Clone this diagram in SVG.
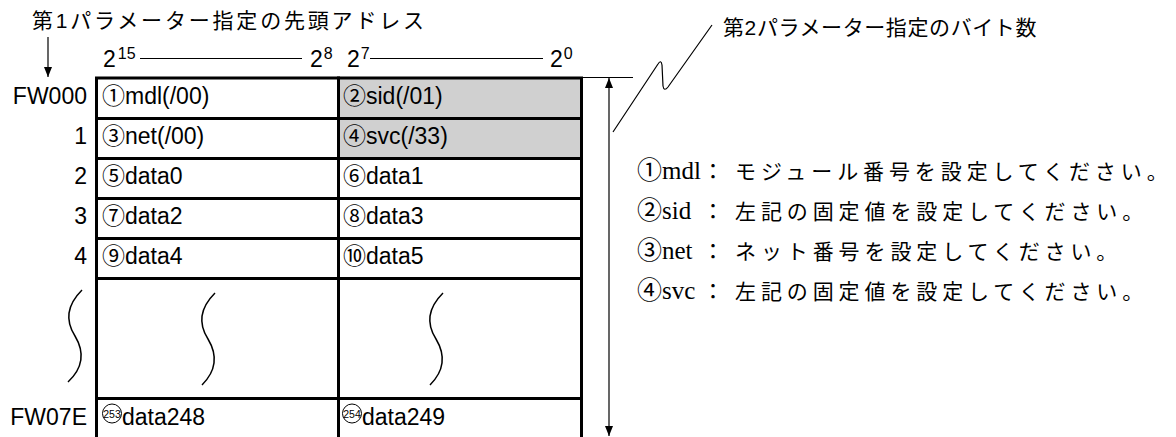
<svg xmlns="http://www.w3.org/2000/svg" width="1176" height="437" viewBox="0 0 1176 437">
<style>
.t{font-family:"Liberation Sans","Noto Sans CJK JP",sans-serif;font-size:23px;fill:#000}
.lbl{text-anchor:end}
.h{font-family:"Liberation Sans","Noto Sans CJK JP",sans-serif;font-size:21px;fill:#000}
.d{font-family:"Liberation Serif","Noto Sans CJK JP",serif;font-size:25px;fill:#000}
.dj{font-family:"Noto Sans CJK JP",serif;font-size:21px;letter-spacing:4.9px}
.dc{font-family:"Noto Sans CJK JP",serif;font-size:22px}
.cell{stroke:#000;stroke-width:3;fill:#fff}
.gray{fill:#d0d0d0}
.thin{stroke:#000;stroke-width:1.2;fill:none}
.sq{stroke:#000;stroke-width:1.5;fill:none}
.circ{stroke:#000;stroke-width:1;fill:none}
.small{font-family:"Liberation Sans",sans-serif;font-size:10.5px;text-anchor:middle}
</style>
<defs>
<marker id="ah" viewBox="0 0 10 8" refX="10" refY="4" markerWidth="10" markerHeight="8" orient="auto-start-reverse" markerUnits="userSpaceOnUse"><path d="M0,0 L10,4 L0,8 z" fill="#000"/></marker>
</defs>

<g id="header1"><text class="h" x="32" y="28" textLength="392" lengthAdjust="spacing">第1パラメーター指定の先頭アドレス</text></g>
<g id="header2"><text class="h" x="723" y="35" style="letter-spacing:0.6px">第2パラメーター指定のバイト数</text></g>

<g id="bit-scale">
<text class="t" x="103" y="67">2<tspan dx="2" dy="-8" font-size="16">15</tspan></text>
<text class="t" x="310" y="67">2<tspan dx="1" dy="-8" font-size="16">8</tspan></text>
<text class="t" x="347" y="67">2<tspan dx="1" dy="-8" font-size="16">7</tspan></text>
<text class="t" x="550" y="67">2<tspan dx="1" dy="-8" font-size="16">0</tspan></text>
<line class="thin" x1="140" y1="58.5" x2="302" y2="58.5"/>
<line class="thin" x1="370" y1="58.5" x2="543" y2="58.5"/>
</g>

<g id="row-labels">
<text class="t lbl" x="87" y="104">FW000</text>
<text class="t lbl" x="87" y="144">1</text>
<text class="t lbl" x="87" y="184">2</text>
<text class="t lbl" x="87" y="224">3</text>
<text class="t lbl" x="87" y="264">4</text>
<text class="t lbl" x="87" y="425">FW07E</text>
</g>

<g id="cell-mdl"><rect class="cell" x="96.5" y="78" width="242" height="40.5"/><text class="t" x="102" y="104">①mdl(/00)</text></g>
<g id="cell-sid"><rect class="cell gray" x="338.5" y="78" width="243" height="40.5"/><text class="t" x="343" y="104">②sid(/01)</text></g>
<g id="cell-net"><rect class="cell" x="96.5" y="118.5" width="242" height="40"/><text class="t" x="102" y="144">③net(/00)</text></g>
<g id="cell-svc"><rect class="cell gray" x="338.5" y="118.5" width="243" height="40"/><text class="t" x="343" y="144">④svc(/33)</text></g>
<g id="cell-data0"><rect class="cell" x="96.5" y="158.5" width="242" height="40"/><text class="t" x="102" y="184">⑤data0</text></g>
<g id="cell-data1"><rect class="cell" x="338.5" y="158.5" width="243" height="40"/><text class="t" x="343" y="184">⑥data1</text></g>
<g id="cell-data2"><rect class="cell" x="96.5" y="198.5" width="242" height="40"/><text class="t" x="102" y="224">⑦data2</text></g>
<g id="cell-data3"><rect class="cell" x="338.5" y="198.5" width="243" height="40"/><text class="t" x="343" y="224">⑧data3</text></g>
<g id="cell-data4"><rect class="cell" x="96.5" y="238.5" width="242" height="40"/><text class="t" x="102" y="264">⑨data4</text></g>
<g id="cell-data5"><rect class="cell" x="338.5" y="238.5" width="243" height="40"/><text class="t" x="343" y="264">⑩data5</text></g>
<g id="cell-gap-left"><rect class="cell" x="96.5" y="278.5" width="242" height="120"/><path class="sq" d="M215 293 C199 309 199 325 208 339 C217 354 217 370 202 385"/></g>
<g id="cell-gap-right"><rect class="cell" x="338.5" y="278.5" width="243" height="120"/><path class="sq" d="M443 293 C427 309 427 325 436 339 C445 354 445 370 430 385"/></g>
<g id="cell-data248"><rect class="cell" x="96.5" y="398.5" width="242" height="50"/><circle class="circ" cx="112" cy="413.5" r="9.5"/><text class="small" x="112" y="417.5">253</text><text class="t" x="122" y="425">data248</text></g>
<g id="cell-data249"><rect class="cell" x="338.5" y="398.5" width="243" height="50"/><circle class="circ" cx="352" cy="413.5" r="9.5"/><text class="small" x="352" y="417.5">254</text><text class="t" x="362" y="425">data249</text></g>

<g id="gap-mark-left"><path class="sq" d="M82 290 C66 306 66 322 75 336 C84 351 84 367 68 382"/></g>

<g id="descriptions">
<text class="d" y="179"><tspan x="637">①mdl</tspan><tspan x="702" class="dc">：</tspan><tspan x="735" class="dj">モジュール番号を設定してください。</tspan></text>
<text class="d" y="219"><tspan x="637">②sid</tspan><tspan x="702" class="dc">：</tspan><tspan x="735" class="dj">左記の固定値を設定してください。</tspan></text>
<text class="d" y="259"><tspan x="637">③net</tspan><tspan x="702" class="dc">：</tspan><tspan x="735" class="dj">ネット番号を設定してください。</tspan></text>
<text class="d" y="299"><tspan x="637">④svc</tspan><tspan x="702" class="dc">：</tspan><tspan x="735" class="dj">左記の固定値を設定してください。</tspan></text>
</g>

<g id="connectors">
<line class="thin" x1="48" y1="37" x2="48" y2="77" marker-end="url(#ah)"/>
<line class="thin" x1="583" y1="77.5" x2="633" y2="77.5"/>
<line class="thin" x1="609" y1="78" x2="609" y2="436" marker-start="url(#ah)" marker-end="url(#ah)"/>
<path class="thin" d="M613 132 L658 64 Q661 59 662 65 L663 86 Q664 92 668 87 L712 25"/>
</g>
</svg>
